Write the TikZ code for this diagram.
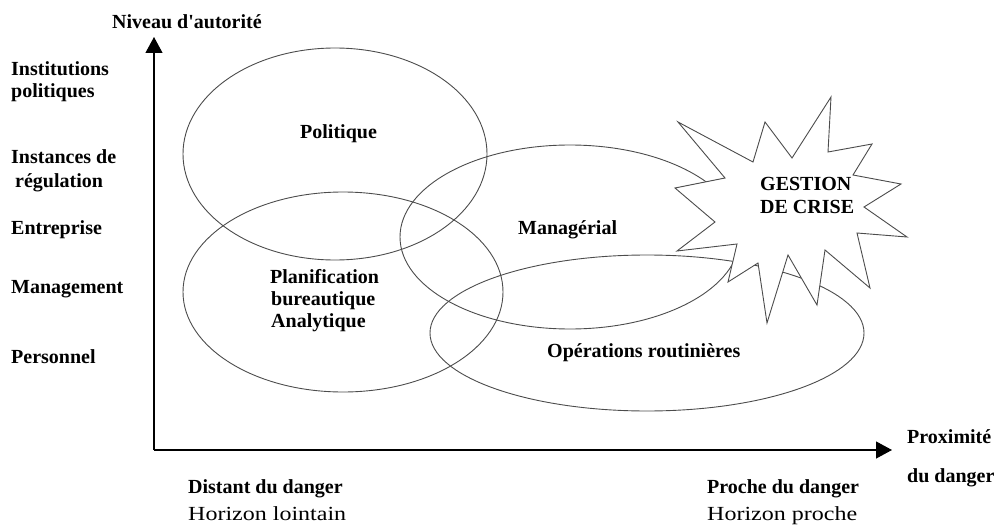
\documentclass[tikz,border=0pt]{standalone}
\usepackage{fontspec}
\setmainfont{Liberation Serif}
\newfontfamily\widefont{Liberation Serif}[FakeStretch=1.2]
\usetikzlibrary{arrows.meta}

\tikzset{
  zone/.style={draw=black!70, line width=0.9pt},
  axisline/.style={draw=black, line width=1.2pt, -{Triangle[length=16pt,width=17pt]}},
  burst/.style={draw=black!70, line width=0.9pt, fill=white, line join=miter},
  lbl/.style={anchor=base west, inner sep=0pt, font=\bfseries\fontsize{20}{22}\selectfont},
  lblr/.style={anchor=base west, inner sep=0pt, font=\widefont\fontsize{20}{22}\selectfont},
}

\begin{document}
\begin{tikzpicture}[x=1pt, y=-1pt]
\useasboundingbox (0,0) rectangle (1004,527);

% axes
\coordinate (origin) at (154,450);
\coordinate (ytip) at (154,37);
\coordinate (xtip) at (892,450);
\draw[axisline] (origin) -- (ytip);
\draw[axisline] (origin) -- (xtip);

% overlapping domains
\draw[zone] (335,154) ellipse [x radius=152pt, y radius=106pt];
\draw[zone] (343,292) ellipse [x radius=160pt, y radius=100pt];
\draw[zone] (570,237) ellipse [x radius=170pt, y radius=92pt];
\draw[zone] (647,333) ellipse [x radius=217pt, y radius=78pt];

% crisis starburst
\draw[burst] (831,97) -- (828,152) -- (872,144) -- (853,175) -- (901,184)
  -- (864,207) -- (907,237) -- (857,233) -- (870,288) -- (825,250)
  -- (817,305) -- (788,255) -- (767,323) -- (758,263) -- (728,282)
  -- (737,244) -- (677,251) -- (715,222) -- (675,188) -- (725,178)
  -- (678,122) -- (753,162) -- (765,122) -- (792,158) -- cycle;

% axis titles
\node[lbl] (yaxis) at (112,29) {Niveau d\textquotesingle autorité};
\node[lbl] (xaxis1) at (907,443) {Proximité};
\node[lbl] (xaxis2) at (907,482) {du danger};

% authority levels
\node[lbl] (lvl1a) at (11,75) {Institutions};
\node[lbl] (lvl1b) at (11,97) {politiques};
\node[lbl] (lvl2a) at (11,163) {Instances de};
\node[lbl] (lvl2b) at (15,187) {régulation};
\node[lbl] (lvl3) at (11,234) {Entreprise};
\node[lbl] (lvl4) at (11,293) {Management};
\node[lbl] (lvl5) at (11,363) {Personnel};

% domain labels
\node[lbl] (pol) at (300,138) {Politique};
\node[lbl] (plan1) at (270,283) {Planification};
\node[lbl] (plan2) at (271,305) {bureautique};
\node[lbl] (plan3) at (271,327) {Analytique};
\node[lbl] (man) at (518,234) {Managérial};
\node[lbl] (ops) at (547,357) {Opérations routinières};
\node[lbl] (crise1) at (760,190) {GESTION};
\node[lbl] (crise2) at (760,213) {DE CRISE};

% horizon labels
\node[lbl] (far1) at (188,493) {Distant du danger};
\node[lblr] (far2) at (188,520) {Horizon lointain};
\node[lbl] (near1) at (707,493) {Proche du danger};
\node[lblr] (near2) at (707,520) {Horizon proche};
\end{tikzpicture}
\end{document}
